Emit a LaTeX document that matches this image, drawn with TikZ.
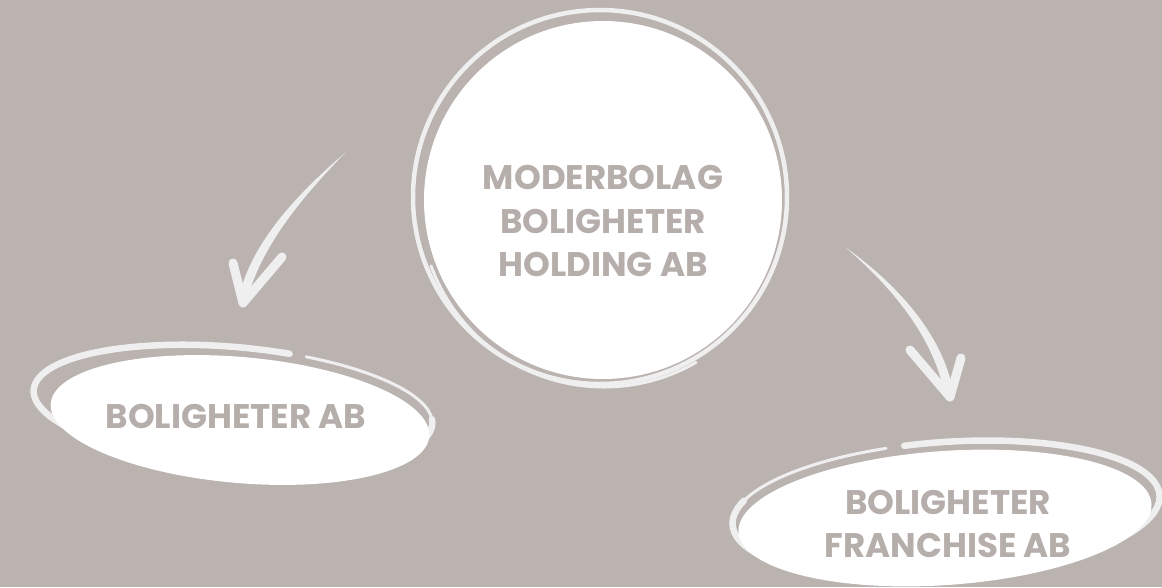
\documentclass[tikz,border=0pt]{standalone}
\usepackage{fontspec}
\setmainfont{Poppins}
\usetikzlibrary{calc}
\definecolor{TaupeBg}{RGB}{186,179,176}
\definecolor{TaupeText}{RGB}{182,174,171}
\definecolor{ChalkWhite}{RGB}{240,239,239}

\begin{document}
\begin{tikzpicture}[x=0.1mm,y=0.1mm]
  \tikzset{
    chalk/.style={draw=ChalkWhite,line width=0.65mm,line cap=round},
    chalkthin/.style={draw=ChalkWhite,line width=0.3mm,line cap=round},
    wing/.style={draw=ChalkWhite,line width=0.9mm,line cap=round,line join=round},
    label/.style={text=TaupeText,align=center,font=\bfseries\fontsize{9.7}{12.5}\selectfont}
  }
  \fill[TaupeBg] (0,0) rectangle (1162,587);
  \useasboundingbox (0,0) rectangle (1162,587);

  % parent company
  \draw[chalkthin,line width=0.45mm] (600,390) circle (187);
  \draw[chalkthin] (604,384) ++(200:184) arc (200:300:184);
  \fill[white] (603,387) circle (179);
  \node[label] (holding) at (603,366) {MODERBOLAG\\BOLIGHETER\\HOLDING AB};

  % left subsidiary
  \draw[chalk,rotate around={-5:(233,180)}] (233,180) ++(75:200 and 60) arc (75:365:200 and 60);
  \draw[chalkthin,rotate around={-5:(233,180)}] (233,180) ++(5:200 and 60) arc (5:70:200 and 60);
  \fill[white,rotate around={-5:(240,167)}] (240,167) ellipse (190 and 63);
  \node[label] (boligheter) at (236,171) {BOLIGHETER AB};

  % right subsidiary
  \draw[chalk,rotate around={4:(946,77)}] (946,77) ++(100:214 and 68) arc (100:-200:214 and 68);
  \draw[chalkthin,rotate around={4:(946,77)}] (946,77) ++(-195:214 and 68) arc (-195:-255:214 and 68);
  \fill[white,rotate around={4:(945,69)}] (945,69) ellipse (207 and 67);
  \node[label] (franchise) at (948,63) {BOLIGHETER\\FRANCHISE AB};

  % hand drawn arrows
  \coordinate (l-start) at (345,434);
  \coordinate (l-tip) at (243,284);
  \coordinate (r-start) at (845,340);
  \coordinate (r-tip) at (950,190);
  \fill[ChalkWhite] (l-start) .. controls (298,394) and (251,344) .. (239,290)
    -- (248,290) .. controls (262,342) and (304,392) .. (l-start);
  \draw[wing] (233,324) -- (l-tip) -- (282,330);
  \fill[ChalkWhite] (r-start) .. controls (890,302) and (932,252) .. (944,196)
    -- (953,196) .. controls (942,255) and (894,305) .. (r-start);
  \draw[wing] (910,237) -- (r-tip) -- (961,229);
\end{tikzpicture}
\end{document}
